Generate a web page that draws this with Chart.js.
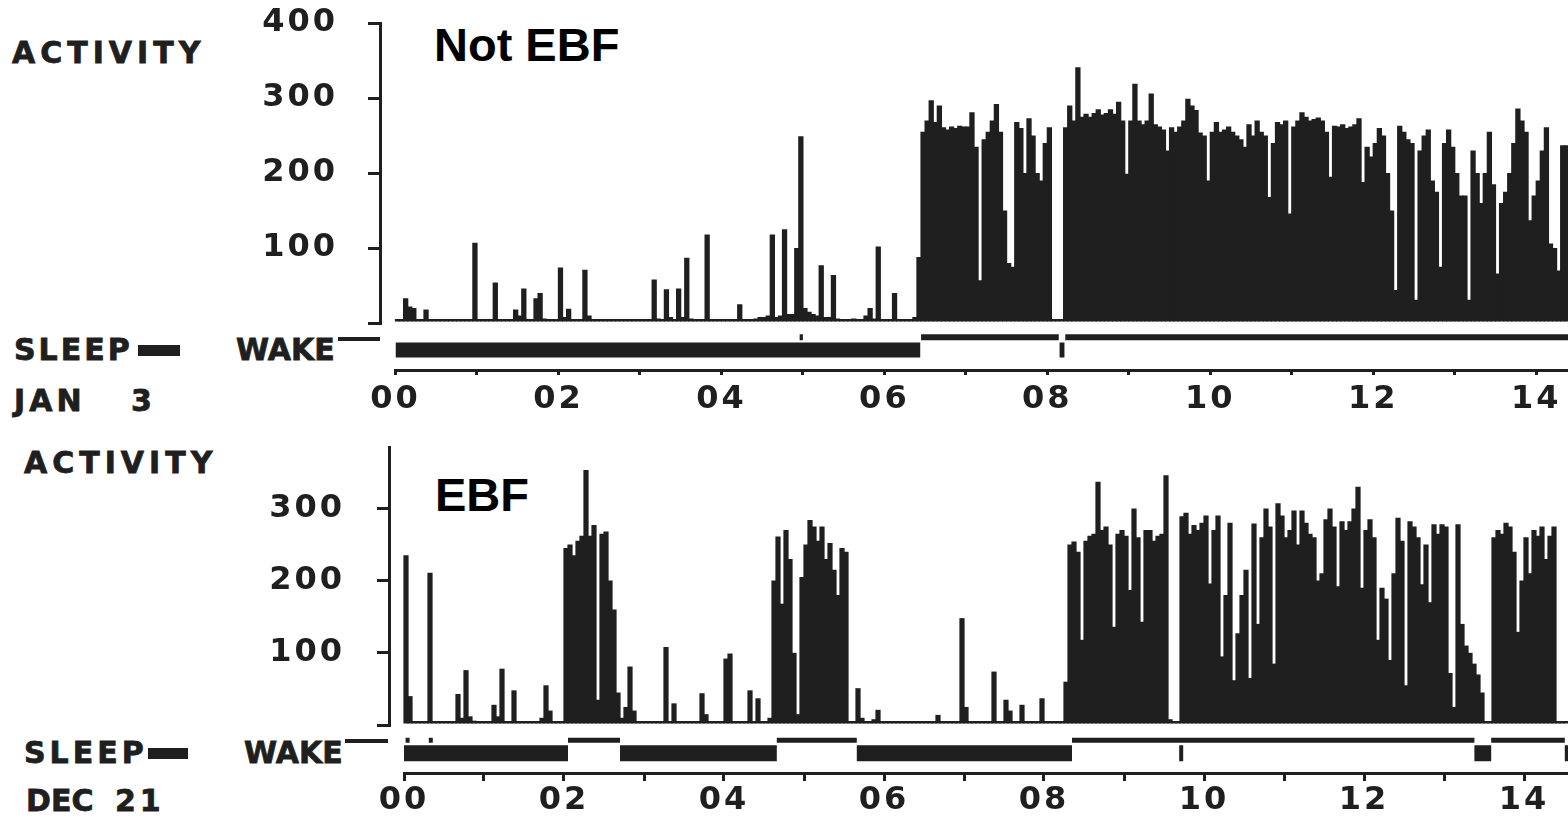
<!DOCTYPE html>
<html>
<head>
<meta charset="utf-8">
<script src="https://cdn.jsdelivr.net/npm/chart.js@4.4.1/dist/chart.umd.min.js"></script>
<style>
  body { margin: 0; background: #fff; width: 1568px; height: 819px; position: relative; overflow: hidden;
         font-family: "DejaVu Sans", sans-serif; font-weight: bold; color: #1f1f1f; }
  canvas { position: absolute; }
  .lbl { position: absolute; font-size: 30px; line-height: 30px; white-space: pre; -webkit-text-stroke: 0.8px #1f1f1f; }
  .title { position: absolute; font-family: "Liberation Sans", Arial, sans-serif; font-weight: bold;
           font-size: 47px; line-height: 47px; color: #000; }
  .mark { position: absolute; background: #1f1f1f; }
</style>
</head>
<body>
<!-- top record -->
<div class="lbl" style="left:12px;top:38px;letter-spacing:5px">ACTIVITY</div>
<div class="lbl" style="left:14px;top:335px;letter-spacing:3px">SLEEP</div>
<div class="mark" style="left:138px;top:345px;width:42px;height:11px"></div>
<div class="lbl" style="left:236px;top:335px">WAKE</div>
<div class="mark" style="left:338px;top:337px;width:42px;height:4px"></div>
<div class="lbl" style="left:14px;top:386px;letter-spacing:4px">JAN</div>
<div class="lbl" style="left:131px;top:386px">3</div>
<div class="title" style="left:434px;top:21px">Not EBF</div>

<!-- bottom record -->
<div class="lbl" style="left:24px;top:448px;letter-spacing:5px">ACTIVITY</div>
<div class="lbl" style="left:24px;top:738px;letter-spacing:4px">SLEEP</div>
<div class="mark" style="left:148px;top:748px;width:40px;height:11px"></div>
<div class="lbl" style="left:244px;top:738px">WAKE</div>
<div class="mark" style="left:345px;top:739px;width:43px;height:4px"></div>
<div class="lbl" style="left:26px;top:786px">DEC</div>
<div class="lbl" style="left:115px;top:786px;letter-spacing:4px">21</div>
<div class="title" style="left:435px;top:471px">EBF</div>

<canvas id="actJan" width="1568" height="410" style="left:0;top:-32px"></canvas>
<canvas id="sleepJan" width="1213" height="91" style="left:355px;top:328px"></canvas>
<canvas id="actDec" width="1568" height="388" style="left:0;top:392px"></canvas>
<canvas id="sleepDec" width="1204" height="91" style="left:364px;top:728px"></canvas>

<script>
const ink = '#1f1f1f';
const epochHours = 3 / 60;   // one value per 3-minute epoch, from 00:00

/* activity counts, Jan 3 (not EBF) */
const jan3Activity = [
  3,3,33,22,20,4,4,18,3,3,3,3,3,3,3,3,3,3,3,107,
  3,3,3,3,54,3,3,3,5,18,10,46,5,4,33,40,6,3,3,3,
  74,8,19,4,3,3,71,10,5,3,3,3,3,3,3,3,3,3,3,3,
  4,5,4,58,6,4,45,8,5,46,8,87,6,5,5,5,118,5,4,4,
  4,4,4,4,25,5,5,5,6,8,8,10,118,8,10,125,12,12,100,249,
  20,15,12,10,77,8,8,64,6,5,5,5,6,5,5,10,20,6,102,5,
  4,4,40,5,4,4,5,8,88,255,270,297,268,290,261,258,262,260,263,262,
  262,281,235,57,245,255,270,292,255,150,80,75,268,260,200,273,250,200,190,240,
  261,5,3,4,261,290,270,341,275,279,275,280,285,278,280,285,279,295,270,199,
  270,319,270,265,270,306,265,262,258,230,261,255,262,270,299,290,284,254,250,190,
  255,268,255,258,262,255,250,245,235,265,250,270,255,250,168,240,268,265,270,146,
  262,270,281,275,270,272,274,270,255,195,263,262,265,260,262,265,273,188,235,222,
  240,260,250,200,150,44,263,255,245,240,31,230,250,258,190,175,75,240,258,235,
  200,170,170,31,230,200,160,200,255,185,66,160,175,200,240,286,270,255,137,170,
  190,230,261,106,100,70,237,237
];

/* activity counts, Dec 21 (EBF) */
const dec21Activity = [
  235,40,5,3,3,3,211,5,3,3,3,3,3,43,10,76,12,6,3,3,
  3,3,28,12,78,4,3,48,3,3,3,3,3,3,10,55,20,5,3,3,
  245,250,235,255,262,353,262,277,35,265,268,200,160,45,10,25,81,20,5,3,
  3,3,3,3,3,108,3,30,3,3,3,3,3,3,44,15,5,3,3,3,
  92,99,5,3,3,3,48,5,37,3,5,10,200,261,168,270,230,100,15,205,
  250,284,275,255,275,230,252,215,180,245,240,5,3,51,10,5,5,8,21,5,
  4,3,3,3,3,3,3,3,3,3,3,3,3,14,3,3,3,3,3,148,
  25,3,3,3,3,3,3,74,3,3,35,20,3,3,28,3,3,3,3,37,
  3,3,3,3,3,60,250,254,240,118,255,262,265,337,270,275,250,136,265,270,
  262,187,300,260,143,270,270,255,262,265,346,8,5,5,289,294,265,277,270,280,
  290,196,270,290,95,180,280,62,127,180,215,65,279,140,260,300,275,85,307,290,
  260,270,297,250,297,280,265,260,200,210,285,300,275,192,282,270,282,300,330,190,
  270,285,260,118,190,175,90,210,287,255,55,282,275,260,195,250,170,278,265,278,
  275,72,25,278,140,110,100,85,70,45,5,5,260,270,265,280,275,240,129,200,
  260,210,270,262,275,230,262,275,3,3,3
];

/* sleep / wake scoring, hours */
const jan3SleepStart = [0.0, 8.15];
const jan3SleepEnd   = [6.44, 8.21];
const jan3WakeStart  = [4.96, 6.45, 8.22];
const jan3WakeEnd    = [5.0, 8.14, 14.39];

const dec21SleepStart = [0.0, 2.70, 5.66, 9.69, 13.38, 14.51];
const dec21SleepEnd   = [2.05, 4.66, 8.35, 9.74, 13.59, 14.55];
const dec21WakeStart  = [0.02, 0.31, 2.05, 4.66, 8.35, 13.59];
const dec21WakeEnd    = [0.07, 0.36, 2.70, 5.66, 13.38, 14.51];

const hourLabels = ['00', '02', '04', '06', '08', '10', '12', '14'];
const activityLabels = [100, 200, 300, 400];

const tickFont = { family: 'DejaVu Sans', weight: 'bold', size: 32 };

// the plotter font is wide, so space the canvas letters out
const spacing = {
  id: 'spacing',
  beforeUpdate(chart) { chart.ctx.letterSpacing = '3px'; },
  beforeDraw(chart) { chart.ctx.letterSpacing = '3px'; }
};

function toBars(values) {
  return values.map((v, i) => ({ x: (i + 0.5) * epochHours, y: v }));
}

function toSegments(starts, ends, level) {
  const pts = [];
  starts.forEach((s, i) => {
    pts.push({ x: s, y: level }, { x: ends[i], y: level }, { x: ends[i], y: null });
  });
  return pts;
}

function activityChart(id, values, yMax, xMin, xMax, axisX, labelPad) {
  new Chart(document.getElementById(id), {
    type: 'bar',
    data: {
      datasets: [{
        data: toBars(values),
        backgroundColor: ink,
        borderWidth: 0,
        barPercentage: 1.3,
        categoryPercentage: 1,
        minBarLength: 4
      }]
    },
    options: {
      responsive: false,
      animation: false,
      devicePixelRatio: 1,
      layout: { padding: { top: 55, bottom: 55, left: 0, right: 0 } },
      plugins: { legend: { display: false }, tooltip: { enabled: false } },
      scales: {
        x: { type: 'linear', display: false, offset: false, min: xMin, max: xMax, ticks: { stepSize: 1 } },
        y: {
          min: 0,
          max: yMax,
          afterFit: (s) => { s.width = axisX; },
          border: { display: true, width: 3, color: ink },
          grid: { drawOnChartArea: false, tickLength: 12, lineWidth: 3, color: ink },
          ticks: {
            stepSize: 100,
            includeBounds: false,
            padding: labelPad,
            color: ink,
            font: tickFont,
            callback: (v) => activityLabels.includes(v) ? String(v) : ''
          }
        }
      }
    },
    plugins: [spacing]
  });
}

function sleepChart(id, sleepStart, sleepEnd, wakeStart, wakeEnd, opt) {
  new Chart(document.getElementById(id), {
    type: 'line',
    data: {
      datasets: [
        { data: toSegments(sleepStart, sleepEnd, opt.sleepLevel), borderColor: ink, borderWidth: opt.sleepWidth,
          borderCapStyle: 'butt', pointRadius: 0, spanGaps: false, tension: 0 },
        { data: toSegments(wakeStart, wakeEnd, opt.wakeLevel), borderColor: ink, borderWidth: opt.wakeWidth,
          borderCapStyle: 'butt', pointRadius: 0, spanGaps: false, tension: 0 }
      ]
    },
    options: {
      responsive: false,
      animation: false,
      devicePixelRatio: 1,
      layout: { padding: { top: 0, bottom: 0, left: opt.padLeft, right: 0 } },
      plugins: { legend: { display: false }, tooltip: { enabled: false } },
      scales: {
        x: {
          type: 'linear',
          min: 0,
          max: opt.xMax,
          offset: false,
          afterFit: (s) => { s.height = opt.axisHeight; },
          border: { display: true, width: 3, color: ink },
          grid: { drawOnChartArea: false, tickLength: opt.tickLength, lineWidth: 3, color: ink },
          ticks: {
            stepSize: 1,
            autoSkip: false,
            maxRotation: 0,
            includeBounds: false,
            padding: opt.labelPad,
            color: ink,
            font: tickFont,
            callback: (v) => v % 2 === 0 ? hourLabels[v / 2] : ''
          }
        },
        y: { display: false, min: 0, max: opt.yMax }
      }
    },
    plugins: [spacing]
  });
}

activityChart('actJan', jan3Activity, 400, -0.19, 14.39, 380, 30);
sleepChart('sleepJan', jan3SleepStart, jan3SleepEnd, jan3WakeStart, jan3WakeEnd, {
  xMax: 14.39, yMax: 42, sleepLevel: 20, wakeLevel: 32.7, sleepWidth: 15, wakeWidth: 6,
  padLeft: 40.5, axisHeight: 49, tickLength: 5, labelPad: 5
});

activityChart('actDec', dec21Activity, 385, -0.1875, 14.55, 389, 32);
sleepChart('sleepDec', dec21SleepStart, dec21SleepEnd, dec21WakeStart, dec21WakeEnd, {
  xMax: 14.55, yMax: 45, sleepLevel: 19.7, wakeLevel: 32.8, sleepWidth: 16, wakeWidth: 5,
  padLeft: 40, axisHeight: 46, tickLength: 8, labelPad: 0
});
</script>
</body>
</html>
